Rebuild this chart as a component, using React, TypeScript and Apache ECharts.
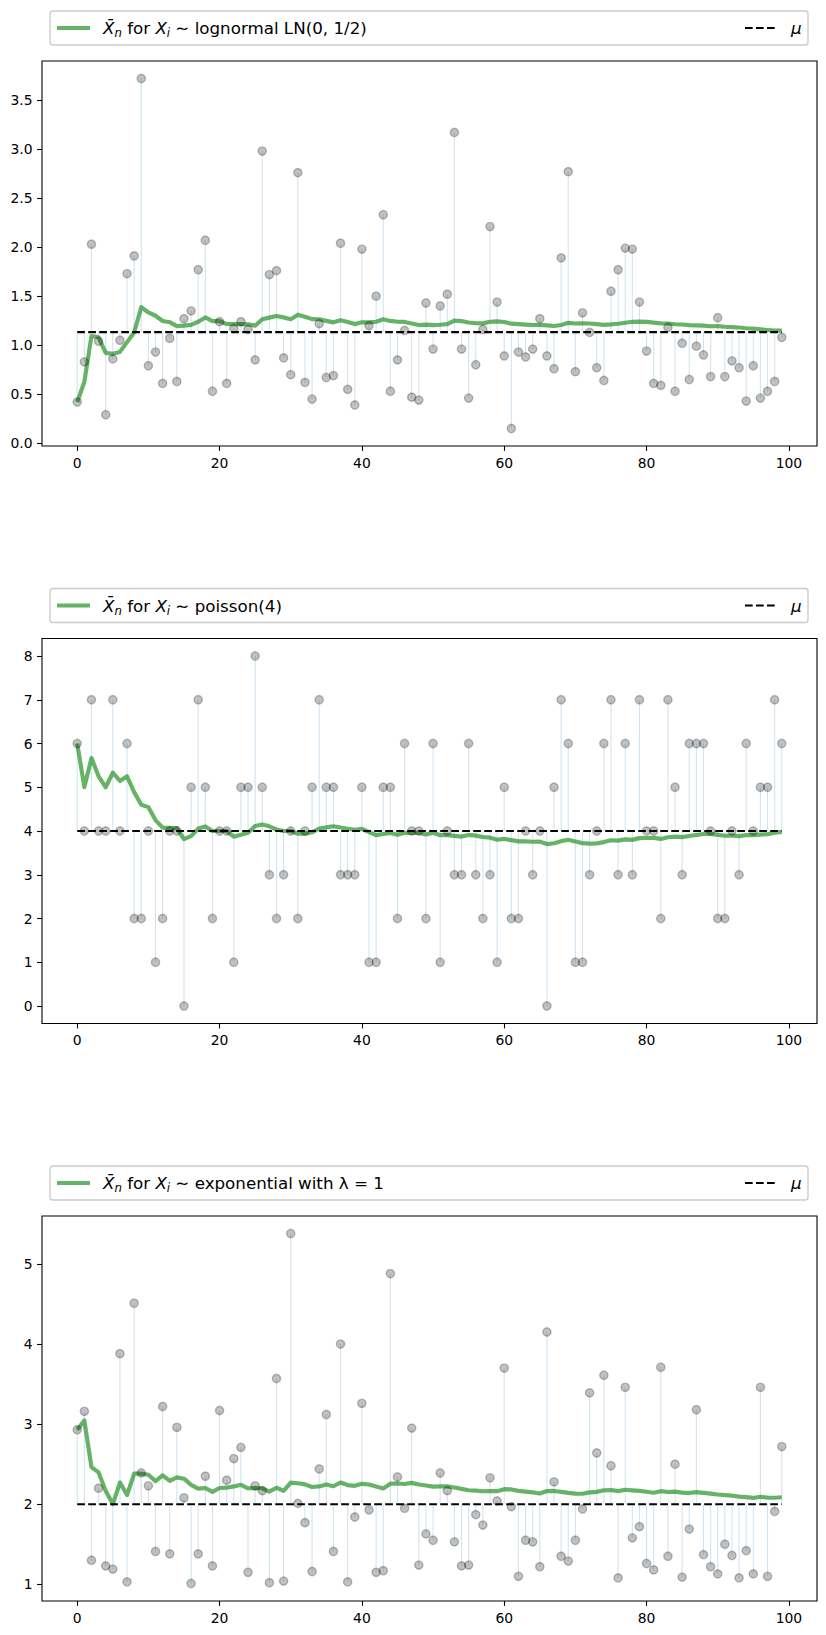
import React, { useEffect, useRef } from "react";
import * as echarts from "echarts";

// ---------------- data ----------------
const sampleIndex: number[] = Array.from({ length: 100 }, (_, i) => i);

const lognormalValues = [
  0.42, 0.83, 2.03, 1.04, 0.29, 0.86, 1.05, 1.73, 1.91, 3.72,
  0.79, 0.93, 0.61, 1.07, 0.63, 1.27, 1.35, 1.77, 2.07, 0.53,
  1.24, 0.61, 1.17, 1.24, 1.16, 0.85, 2.98, 1.72, 1.76, 0.87,
  0.70, 2.76, 0.62, 0.45, 1.22, 0.67, 0.69, 2.04, 0.55, 0.39,
  1.98, 1.20, 1.50, 2.33, 0.53, 0.85, 1.15, 0.47, 0.44, 1.43,
  0.96, 1.40, 1.52, 3.17, 0.96, 0.46, 0.80, 1.16, 2.21, 1.44,
  0.89, 0.15, 0.93, 0.88, 0.96, 1.27, 0.89, 0.76, 1.89, 2.77,
  0.73, 1.33, 1.13, 0.77, 0.64, 1.55, 1.77, 1.99, 1.98, 1.44,
  0.94, 0.61, 0.59, 1.18, 0.53, 1.02, 0.65, 0.99, 0.90, 0.68,
  1.28, 0.68, 0.84, 0.77, 0.43, 0.79, 0.46, 0.53, 0.63, 1.08,
];

const poissonValues = [
  6, 4, 7, 4, 4, 7, 4, 6, 2, 2,
  4, 1, 2, 4, 4, 0, 5, 7, 5, 2,
  4, 4, 1, 5, 5, 8, 5, 3, 2, 3,
  4, 2, 4, 5, 7, 5, 5, 3, 3, 3,
  5, 1, 1, 5, 5, 2, 6, 4, 4, 2,
  6, 1, 4, 3, 3, 6, 3, 2, 3, 1,
  5, 2, 2, 4, 3, 4, 0, 5, 7, 6,
  1, 1, 3, 4, 6, 7, 3, 6, 3, 7,
  4, 4, 2, 7, 5, 3, 6, 6, 6, 4,
  2, 2, 4, 3, 6, 4, 5, 5, 7, 6,
];

const exponentialValues = [
  2.93, 3.16, 1.30, 2.20, 1.23, 1.19, 3.88, 1.03, 4.51, 2.39,
  2.23, 1.41, 3.22, 1.38, 2.96, 2.08, 1.01, 1.38, 2.35, 1.23,
  3.17, 2.30, 2.57, 2.71, 1.15, 2.23, 2.17, 1.02, 3.57, 1.04,
  5.38, 2.01, 1.77, 1.16, 2.44, 3.12, 1.41, 4.00, 1.03, 1.84,
  3.26, 1.93, 1.15, 1.17, 4.88, 2.34, 1.95, 2.95, 1.24, 1.63,
  1.55, 2.39, 2.17, 1.53, 1.23, 1.24, 1.87, 1.74, 2.33, 2.04,
  3.70, 1.97, 1.10, 1.55, 1.53, 1.22, 4.15, 2.28, 1.35, 1.29,
  1.55, 1.94, 3.39, 2.64, 3.61, 2.48, 1.08, 3.46, 1.58, 1.72,
  1.26, 1.18, 3.71, 1.35, 2.50, 1.09, 1.69, 3.18, 1.37, 1.22,
  1.13, 1.50, 1.36, 1.08, 1.42, 1.13, 3.46, 1.10, 1.91, 2.72,
];

const muValues = [1.1331, 4, 2];
const distributionNames = ["lognormal LN(0, 1/2)", "poisson(4)", "exponential with λ = 1"];

const xTickValues = [0, 20, 40, 60, 80, 100];
const yTicksLognormal = [0, 0.5, 1, 1.5, 2, 2.5, 3, 3.5];
const yTicksPoisson = [0, 1, 2, 3, 4, 5, 6, 7, 8];
const yTicksExponential = [1, 2, 3, 4, 5];

// ---------------- helpers ----------------
const FONT = "'DejaVu Sans', 'Liberation Sans', sans-serif";
const GRID_LEFT = 42;
const GRID_WIDTH = 775;
const GRID_HEIGHT = 385;
const GRID_TOPS = [61, 638.5, 1216];
const TICK_FS = 13.9;
const LEG_FS = 16.7;

function runningMean(v: number[]): number[] {
  let s = 0;
  return v.map((x, i) => {
    s += x;
    return s / (i + 1);
  });
}

function paddedExtent(arrays: number[][]): [number, number] {
  const all = arrays.flat();
  const mn = Math.min(...all);
  const mx = Math.max(...all);
  const r = mx - mn;
  return [mn - 0.05 * r, mx + 0.05 * r];
}

export default function App() {
  const ref = useRef<HTMLDivElement>(null);

  useEffect(() => {
    if (!ref.current) return;
    const chart = echarts.init(ref.current, undefined, { renderer: "svg" });

    const panels = [
      { values: lognormalValues, mu: muValues[0], yTicks: yTicksLognormal, fmt: (v: number) => v.toFixed(1), name: distributionNames[0] },
      { values: poissonValues, mu: muValues[1], yTicks: yTicksPoisson, fmt: (v: number) => String(Math.round(v)), name: distributionNames[1] },
      { values: exponentialValues, mu: muValues[2], yTicks: yTicksExponential, fmt: (v: number) => String(Math.round(v)), name: distributionNames[2] },
    ];

    const grids: any[] = [];
    const xAxes: any[] = [];
    const yAxes: any[] = [];
    const series: any[] = [];
    const graphics: any[] = [];

    panels.forEach((p, k) => {
      const mean = runningMean(p.values);
      const [ymin, ymax] = paddedExtent([p.values, mean, [p.mu]]);
      const top = GRID_TOPS[k];
      grids.push({
        left: GRID_LEFT,
        top,
        width: GRID_WIDTH,
        height: GRID_HEIGHT,
        show: true,
        borderColor: "#000",
        borderWidth: 1.1,
        backgroundColor: "transparent",
        containLabel: false,
        outerBoundsMode: "none",
      });
      xAxes.push({
        gridIndex: k,
        type: "value",
        position: "bottom",
        min: -4.95,
        max: 103.95,
        axisLine: { show: false, onZero: false },
        splitLine: { show: false },
        axisTick: { show: true, inside: false, length: 4.9, lineStyle: { color: "#000", width: 1.1 }, customValues: xTickValues },
        axisLabel: { customValues: xTickValues, margin: 9.5, color: "#000", fontSize: TICK_FS, fontFamily: FONT },
      });
      yAxes.push({
        gridIndex: k,
        type: "value",
        position: "left",
        min: ymin,
        max: ymax,
        axisLine: { show: false, onZero: false },
        splitLine: { show: false },
        axisTick: { show: true, inside: false, length: 4.9, lineStyle: { color: "#000", width: 1.1 }, customValues: p.yTicks },
        axisLabel: { customValues: p.yTicks, margin: 9.5, color: "#000", fontSize: TICK_FS, fontFamily: FONT, formatter: p.fmt },
      });
      series.push({
        type: "line",
        xAxisIndex: k,
        yAxisIndex: k,
        data: sampleIndex.map((i) => [i, mean[i]]),
        symbol: "none",
        silent: true,
        lineStyle: { color: "#008000", width: 4.17, opacity: 0.6, join: "round" },
        z: 2,
      });
      series.push({
        type: "line",
        xAxisIndex: k,
        yAxisIndex: k,
        data: [[sampleIndex[0], p.mu], [sampleIndex[sampleIndex.length - 1], p.mu]],
        symbol: "none",
        silent: true,
        lineStyle: { color: "#000", width: 2.08, type: [7.7, 3.3] },
        z: 3,
      });
      const mu = p.mu;
      series.push({
        type: "custom",
        xAxisIndex: k,
        yAxisIndex: k,
        silent: true,
        data: sampleIndex.map((i) => [i, p.values[i]]),
        encode: { x: 0, y: 1 },
        renderItem: (_params: any, api: any) => {
          const x = api.value(0);
          const y = api.value(1);
          const a = api.coord([x, mu]);
          const b = api.coord([x, y]);
          return {
            type: "line",
            shape: { x1: a[0], y1: a[1], x2: b[0], y2: b[1] },
            style: { stroke: "rgba(31,119,180,0.2)", lineWidth: 1.1 },
          };
        },
        z: 4,
      });
      series.push({
        type: "scatter",
        xAxisIndex: k,
        yAxisIndex: k,
        silent: true,
        data: sampleIndex.map((i) => [i, p.values[i]]),
        symbol: "circle",
        symbolSize: 8.3,
        itemStyle: { color: "rgba(0,0,0,0.3)", borderColor: "rgba(0,0,0,0.3)", borderWidth: 1.4 },
        z: 5,
      });

      // legend (drawn as graphic)
      const boxY = top - 50;
      const cy = boxY + 17;
      graphics.push({
        type: "rect",
        shape: { x: 50, y: boxY, width: 758, height: 34, r: 3 },
        style: { fill: "rgba(255,255,255,0.8)", stroke: "#cccccc", lineWidth: 1.4 },
        z: 10,
      });
      graphics.push({
        type: "line",
        shape: { x1: 57, y1: cy, x2: 90, y2: cy },
        style: { stroke: "rgba(0,128,0,0.6)", lineWidth: 4.17 },
        z: 11,
      });
      graphics.push({
        type: "text",
        x: 103,
        y: cy,
        style: {
          text: "{it|X\u0304}{sub|n}{t| for }{it|X}{sub|i}{t| \u223C }{t|" + p.name + "}",
          verticalAlign: "middle",
          align: "left",
          fill: "#000",
          fontFamily: FONT,
          fontSize: LEG_FS,
          rich: {
            it: { fontFamily: FONT, fontStyle: "italic", fontSize: LEG_FS, lineHeight: 22, verticalAlign: "middle", fill: "#000" },
            sub: { fontFamily: FONT, fontStyle: "italic", fontSize: 11.7, lineHeight: 11.7, verticalAlign: "bottom", fill: "#000" },
            t: { fontFamily: FONT, fontSize: LEG_FS, lineHeight: 22, verticalAlign: "middle", fill: "#000" },
          },
        },
        z: 11,
      });
      graphics.push({
        type: "line",
        shape: { x1: 745, y1: cy, x2: 778, y2: cy },
        style: { stroke: "#000", lineWidth: 2.08, lineDash: [7.7, 3.3] },
        z: 11,
      });
      graphics.push({
        type: "text",
        x: 791,
        y: cy,
        style: {
          text: "\u03BC",
          fontFamily: FONT,
          fontStyle: "italic",
          fontSize: LEG_FS,
          fill: "#000",
          verticalAlign: "middle",
          align: "left",
        },
        z: 11,
      });
    });

    chart.setOption({
      animation: false,
      backgroundColor: "#fff",
      grid: grids,
      xAxis: xAxes,
      yAxis: yAxes,
      series,
      graphic: graphics,
    });

    return () => chart.dispose();
  }, []);

  return (
    <div
      ref={ref}
      style={{ position: "absolute", left: 0, top: 0, width: 826, height: 1635 }}
    />
  );
}
